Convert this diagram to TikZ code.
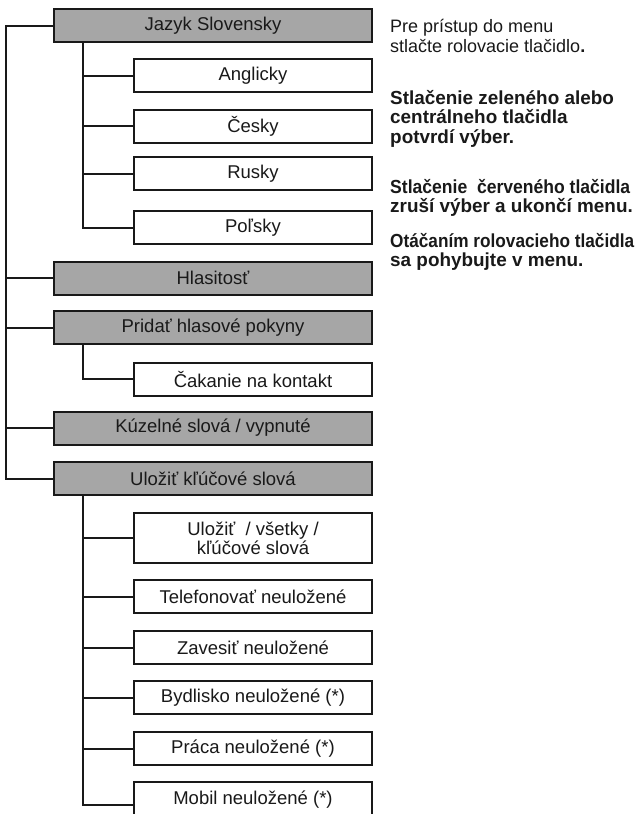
\documentclass[tikz,border=0pt]{standalone}
\usepackage{fontspec}
\usepackage{graphicx}
\setmainfont{Liberation Sans}
\definecolor{boxgray}{RGB}{166,166,166}
\definecolor{ink}{RGB}{25,25,25}
\tikzset{
  base/.style={draw=ink, line width=2pt, inner sep=0pt, font=\fontsize{18.5}{20}\selectfont, text=ink},
  gbox/.style={base, fill=boxgray, minimum width=318pt, minimum height=33pt},
  wbox/.style={base, fill=white, minimum width=238pt, minimum height=33pt},
  conn/.style={draw=ink, line width=2pt},
  note/.style={anchor=base west, inner sep=0pt, text=ink, font=\fontsize{18}{20}\selectfont},
  bnote/.style={note, font=\fontsize{18.9}{20}\selectfont\bfseries}
}
\begin{document}
\begin{tikzpicture}[x=1pt, y=-1pt]
\useasboundingbox (0,0) rectangle (638,814);
\clip (0,0) rectangle (638,814);
\fill[white] (0,0) rectangle (638,814);

% main menu
\node[gbox] (jazyk) at (213,25.5) {Jazyk Slovensky};
\node[wbox] (angl) at (253,75.5) {Anglicky};
\node[wbox] (cesky) at (253,126) {Česky};
\node[wbox] (rusky) at (253,173.5) {Rusky};
\node[wbox] (polsky) at (253,227.5) {Poľsky};
\node[gbox] (hlas) at (213,278) {Hlasitosť};
\node[gbox] (pridat) at (213,327.5) {Pridať hlasové pokyny};
\node[wbox] (cakanie) at (253,379) {Čakanie na kontakt};
\node[gbox] (kuzel) at (213,428) {Kúzelné slová / vypnuté};
\node[gbox] (ulozit) at (213,478.5) {Uložiť kľúčové slová};
\node[wbox, minimum height=50pt, align=center] (vsetky) at (253,538) {Uložiť\ \ / všetky /\\[-1pt]kľúčové slová};
\node[wbox] (telef) at (253,596.5) {Telefonovať neuložené};
\node[wbox] (zaves) at (253,647.5) {Zavesiť neuložené};
\node[wbox] (bydl) at (253,697.5) {Bydlisko neuložené (*)};
\node[wbox] (praca) at (253,748.5) {Práca neuložené (*)};
\node[wbox, minimum height=36pt] (mobil) at (253,800) {Mobil neuložené (*)};

% main trunk
\draw[conn] (jazyk.west) -- ++(-47,0) |- (ulozit.west);
\foreach \n in {hlas,pridat,kuzel} \draw[conn] (\n.west) -- ++(-47,0);

% language sub-trunk
\draw[conn] ([xshift=30pt]jazyk.south west) |- (polsky.west);
\foreach \n in {angl,cesky,rusky} \draw[conn] (\n.west) -- ++(-50,0);

% voice sub-trunk
\draw[conn] ([xshift=30pt]pridat.south west) |- (cakanie.west);

% keyword sub-trunk
\draw[conn] ([xshift=30pt]ulozit.south west) |- ([yshift=-5pt]mobil.west);
\foreach \n in {vsetky,telef,zaves,bydl,praca} \draw[conn] (\n.west) -- ++(-50,0);

% notes
\node[note] (n1a) at (390,32) {Pre prístup do menu};
\node[note] (n1b) at (390,52) {stlačte rolovacie tlačidlo\textbf{.}};
\node[bnote] (n2a) at (390,104) {Stlačenie zeleného alebo};
\node[bnote] (n2b) at (390,123.5) {centrálneho tlačidla};
\node[bnote] (n2c) at (390,143) {potvrdí výber.};
\node[bnote] (n3a) at (390,193) {\resizebox{240pt}{\height}{Stlačenie\ \ červeného tlačidla}};
\node[bnote] (n3b) at (390,212) {zruší výber a ukončí menu.};
\node[bnote] (n4a) at (390,247) {\resizebox{244pt}{\height}{Otáčaním rolovacieho tlačidla}};
\node[bnote] (n4b) at (390,266) {sa pohybujte v menu.};
\end{tikzpicture}
\end{document}
